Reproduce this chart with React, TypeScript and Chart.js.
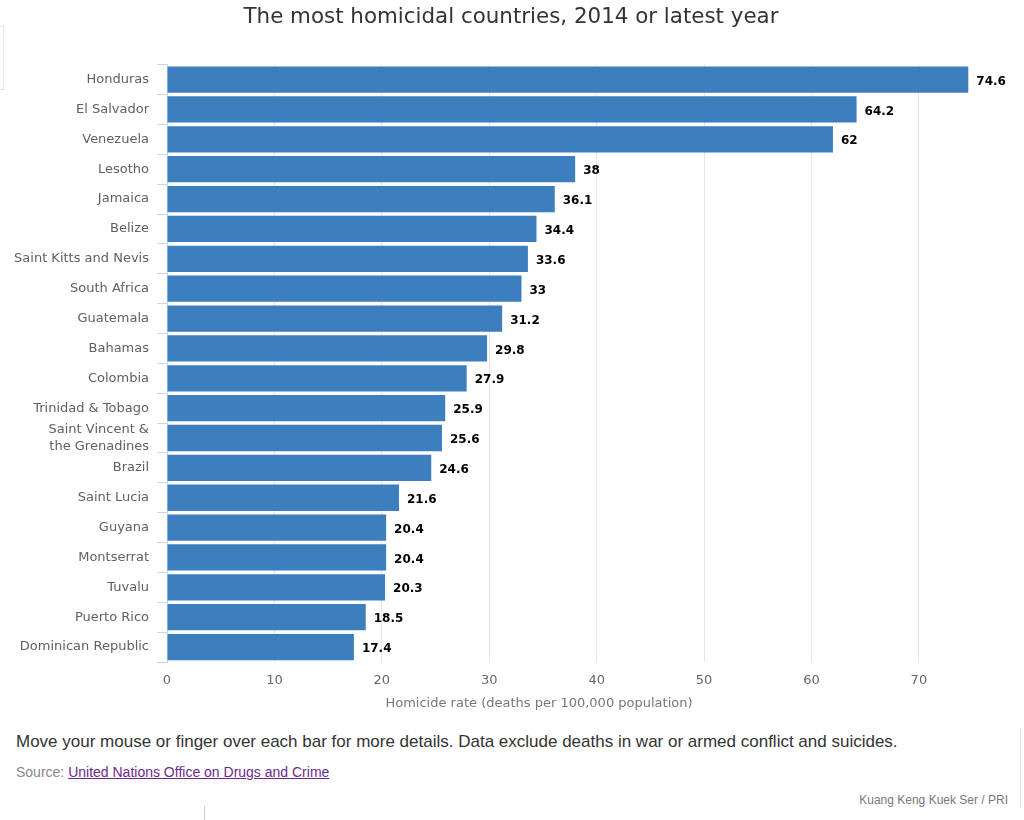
import React, { useEffect, useRef } from "react";
import { Chart, registerables } from "chart.js";

Chart.register(...registerables);

const countries: (string | string[])[] = [
  "Honduras",
  "El Salvador",
  "Venezuela",
  "Lesotho",
  "Jamaica",
  "Belize",
  "Saint Kitts and Nevis",
  "South Africa",
  "Guatemala",
  "Bahamas",
  "Colombia",
  "Trinidad & Tobago",
  ["Saint Vincent &", "the Grenadines"],
  "Brazil",
  "Saint Lucia",
  "Guyana",
  "Montserrat",
  "Tuvalu",
  "Puerto Rico",
  "Dominican Republic",
];

const homicideRates = [
  74.6, 64.2, 62, 38, 36.1, 34.4, 33.6, 33, 31.2, 29.8, 27.9, 25.9, 25.6, 24.6,
  21.6, 20.4, 20.4, 20.3, 18.5, 17.4,
];

const xTickValues = [0, 10, 20, 30, 40, 50, 60, 70];

const TITLE = "The most homicidal countries, 2014 or latest year";
const AXIS_TITLE = "Homicide rate (deaths per 100,000 population)";
const NOTE =
  "Move your mouse or finger over each bar for more details. Data exclude deaths in war or armed conflict and suicides.";
const CREDIT = "Kuang Keng Kuek Ser / PRI";

const FONT = "'DejaVu Sans', sans-serif";

const valueLabels = {
  id: "valueLabels",
  afterDatasetsDraw(chart: any) {
    const ctx = chart.ctx;
    const meta = chart.getDatasetMeta(0);
    ctx.save();
    ctx.font = "bold 12px " + FONT;
    ctx.fillStyle = "#000000";
    ctx.textAlign = "left";
    ctx.textBaseline = "middle";
    meta.data.forEach((bar: any, i: number) => {
      ctx.fillText(String(homicideRates[i]), bar.x + 8, bar.y + 2);
    });
    ctx.restore();
  },
};

export default function App() {
  const canvasRef = useRef<HTMLCanvasElement | null>(null);

  useEffect(() => {
    if (!canvasRef.current) return;
    const chart = new Chart(canvasRef.current, {
      type: "bar",
      data: {
        labels: countries,
        datasets: [
          {
            data: homicideRates,
            backgroundColor: "#3d7ebf",
            borderWidth: 0,
            barPercentage: 0.88,
            categoryPercentage: 1,
          },
        ],
      },
      plugins: [valueLabels],
      options: {
        indexAxis: "y",
        animation: false,
        responsive: false,
        maintainAspectRatio: false,
        layout: { padding: { left: 0, right: 0, top: 0, bottom: 0 } },
        plugins: {
          legend: { display: false },
          tooltip: { enabled: false },
          title: {
            display: true,
            text: TITLE,
            color: "#333333",
            font: { family: FONT, size: 21.4, weight: "normal" },
            padding: { top: 5, bottom: 34 },
          },
        },
        scales: {
          x: {
            min: 0,
            max: 79.6,
            afterBuildTicks(scale: any) {
              scale.ticks = xTickValues.map((v) => ({ value: v }));
            },
            afterFit(scale: any) {
              scale.height = 56;
            },
            ticks: {
              color: "#666666",
              font: { family: FONT, size: 13 },
              padding: 11,
            },
            grid: {
              color: "#e6e6e6",
              drawTicks: false,
            },
            border: { display: false },
          },
          y: {
            afterFit(scale: any) {
              scale.width = 167;
            },
            ticks: {
              autoSkip: false,
              color: "#606060",
              font: { family: FONT, size: 13, lineHeight: 1.35 },
              padding: 8,
            },
            grid: {
              offset: true,
              drawOnChartArea: false,
              drawTicks: true,
              tickLength: 10,
              color: "#ccd6eb",
            },
            border: { display: true, color: "#ccd6eb" },
          },
        },
      } as any,
    });
    return () => chart.destroy();
  }, []);

  return (
    <div
      style={{
        position: "absolute",
        left: 0,
        top: 0,
        width: 1024,
        height: 820,
        background: "#ffffff",
        overflow: "hidden",
      }}
    >
      <div
        style={{
          position: "absolute",
          left: 0,
          top: 26,
          width: 3,
          height: 62,
          borderTop: "1px solid #e4e4e4",
          borderBottom: "1px solid #e4e4e4",
          borderRight: "1px solid #e4e4e4",
        }}
      />
      <canvas
        ref={canvasRef}
        width={1022}
        height={718}
        style={{ position: "absolute", left: 0, top: 0, width: 1022, height: 718 }}
      />
      <div
        style={{
          position: "absolute",
          left: 239,
          width: 600,
          top: 695,
          textAlign: "center",
          font: "13px " + FONT,
          color: "#777777",
        }}
      >
        {AXIS_TITLE}
      </div>
      <div
        style={{
          position: "absolute",
          left: 16,
          top: 732,
          font: "17px 'Liberation Sans', Arial, sans-serif",
          color: "#333333",
          whiteSpace: "nowrap",
        }}
      >
        {NOTE}
      </div>
      <div
        style={{
          position: "absolute",
          left: 16,
          top: 764,
          font: "14px 'Liberation Sans', Arial, sans-serif",
          color: "#888888",
          whiteSpace: "nowrap",
        }}
      >
        Source:{" "}
        <a
          href="#"
          style={{ color: "#6b2a8a", textDecoration: "underline" }}
        >
          United Nations Office on Drugs and Crime
        </a>
      </div>
      <div
        style={{
          position: "absolute",
          right: 16,
          top: 793,
          font: "12px 'Liberation Sans', Arial, sans-serif",
          color: "#777777",
          whiteSpace: "nowrap",
        }}
      >
        {CREDIT}
      </div>
      <div
        style={{
          position: "absolute",
          left: 1020,
          top: 728,
          width: 1,
          height: 80,
          background: "#dddddd",
        }}
      />
      <div
        style={{
          position: "absolute",
          left: 204,
          top: 806,
          width: 1,
          height: 14,
          background: "#cccccc",
        }}
      />
    </div>
  );
}
